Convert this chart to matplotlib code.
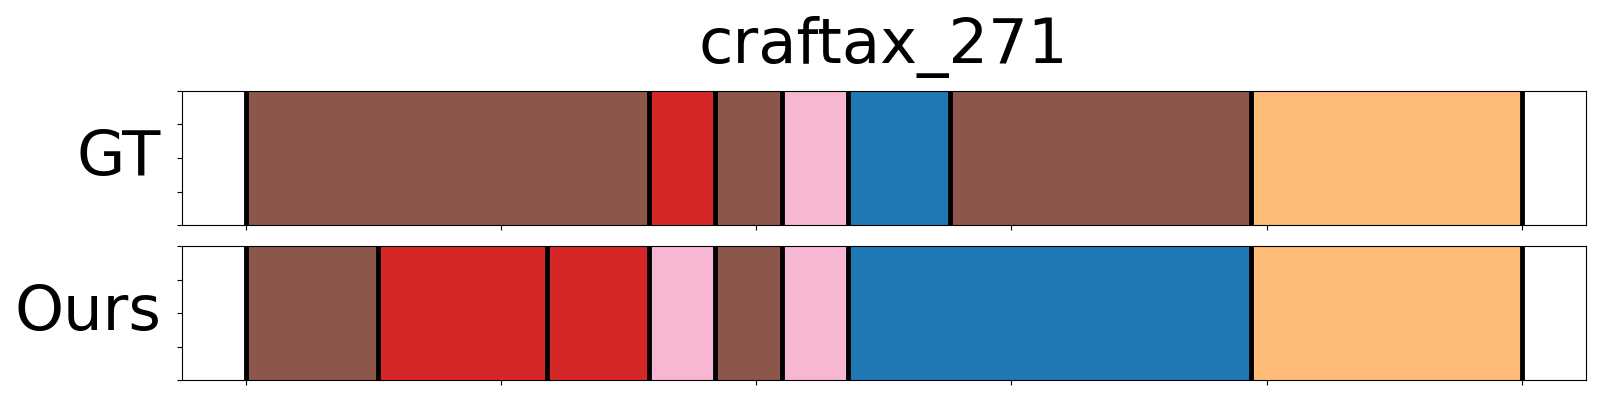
import matplotlib
matplotlib.use('Agg')
import matplotlib.pyplot as plt

# 세그먼트 데이터 (프레임 단위)
title = 'craftax_271'
row_names = ['GT', 'Ours']

gt_bounds = [0, 79, 92, 105, 118, 138, 197, 250]
gt_labels = ['brown', 'red', 'brown', 'pink', 'blue', 'brown', 'orange']

ours_bounds = [0, 26, 59, 79, 92, 105, 118, 197, 250]
ours_labels = ['brown', 'red', 'red', 'pink', 'brown', 'pink', 'blue', 'orange']

palette = {
    'brown': '#8c564b',
    'red': '#d62728',
    'pink': '#f7b6d2',
    'blue': '#1f77b4',
    'orange': '#ffbb78',
}

fig = plt.figure(figsize=(16, 4), dpi=100)
ax1 = fig.add_axes([0.1136, 0.437, 0.8774, 0.336])
ax2 = fig.add_axes([0.1136, 0.049, 0.8774, 0.336])

for ax, bounds, labels, name in [(ax1, gt_bounds, gt_labels, row_names[0]),
                                 (ax2, ours_bounds, ours_labels, row_names[1])]:
    for i, lab in enumerate(labels):
        ax.axvspan(bounds[i], bounds[i + 1], color=palette[lab])
    # 경계선
    for b in bounds:
        ax.axvline(b, color='black', lw=3.5)
    ax.set_ylim(0, 1)
    ax.set_xlim(-0.05 * bounds[-1], 1.05 * bounds[-1])
    ax.set_xticks(range(0, bounds[-1] + 1, 50))
    ax.set_xticklabels([])
    ax.set_yticks([0, 0.25, 0.5, 0.75, 1.0])
    ax.set_yticklabels([])
    ax.set_ylabel(name, fontsize=45, rotation=0, ha='right', va='center', labelpad=8)

ax1.set_title(title, fontsize=45, pad=20)

plt.savefig('out.png', dpi=100)
